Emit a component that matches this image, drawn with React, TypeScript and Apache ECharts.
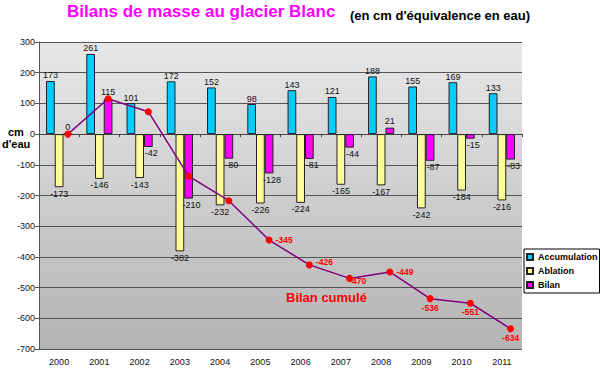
import React, { useEffect, useRef } from "react";
import * as echarts from "echarts";

const years = ["2000", "2001", "2002", "2003", "2004", "2005", "2006", "2007", "2008", "2009", "2010", "2011"];
const accumulation = [173, 261, 101, 172, 152, 98, 143, 121, 188, 155, 169, 133];
const ablation = [-173, -146, -143, -382, -232, -226, -224, -165, -167, -242, -184, -216];
const bilan = [0, 115, -42, -210, -80, -128, -81, -44, 21, -87, -15, -83];
const bilanCumule = [0, 115, 73, -137, -217, -345, -426, -470, -449, -536, -551, -634];
const yTicks = { min: -700, max: 300, interval: 100 };

const FONT = "Arial";

export default function App() {
  const ref = useRef<HTMLDivElement>(null);
  useEffect(() => {
    if (!ref.current) return;
    const chart = echarts.init(ref.current, null, { renderer: "svg" });
    const catGap = 0.35;
    const nBars = 3;
    const barFrac = (1 - catGap) / nBars;
    const bilanOffset = barFrac; // third bar centre offset from category centre

    const cumulLabel: any[] = [
      null, null, null, null, null,
      { position: "right", distance: 3 },
      { position: "right", distance: 3, offset: [0, -3] },
      { position: "bottom", distance: 1, offset: [8, -6] },
      { position: "right", distance: 3 },
      { position: "bottom", distance: 1 },
      { position: "bottom", distance: 1 },
      { position: "bottom", distance: 1 },
    ];

    const barLabel = { fontFamily: FONT, fontSize: 9, color: "#111" };

    chart.setOption({
      animation: false,
      backgroundColor: "#ffffff",
      textStyle: { fontFamily: FONT },
      grid: {
        left: 39,
        right: 78,
        top: 42,
        bottom: 23,
        show: true,
        borderWidth: 0,
        backgroundColor: new echarts.graphic.LinearGradient(0, 0, 0, 1, [
          { offset: 0, color: "#e8e8e8" },
          { offset: 1, color: "#b4b4b4" },
        ]),
      },
      legend: {
        data: ["Accumulation", "Ablation", "Bilan"],
        orient: "vertical",
        left: 524,
        top: 249,
        icon: "rect",
        itemWidth: 6,
        itemHeight: 6,
        itemGap: 2,
        padding: [2, 2, 2, 2],
        borderColor: "#000",
        borderWidth: 1,
        backgroundColor: "#ffffff",
        borderRadius: 0,
        textStyle: { fontFamily: FONT, fontWeight: "bold", fontSize: 9, color: "#000", lineHeight: 12 },
      },
      xAxis: [
        {
          type: "category",
          data: years,
          position: "bottom",
          axisLine: { show: false, onZero: false },
          axisTick: { show: false },
          axisLabel: { fontFamily: FONT, fontSize: 9, color: "#111", margin: 8 },
          splitLine: { show: false },
        },
        {
          type: "category",
          data: years,
          position: "bottom",
          axisLine: { show: true, onZero: true, lineStyle: { color: "#444", width: 1 } },
          axisTick: { show: true, length: 3, lineStyle: { color: "#444" } },
          axisLabel: { show: false },
          splitLine: { show: false },
        },
        {
          type: "value",
          min: -0.5,
          max: years.length - 0.5,
          show: false,
        },
      ],
      yAxis: {
        type: "value",
        min: yTicks.min,
        max: yTicks.max,
        interval: yTicks.interval,
        axisLine: { show: true, onZero: false, lineStyle: { color: "#555" } },
        axisTick: { show: true, length: 4, lineStyle: { color: "#555" } },
        axisLabel: { fontFamily: FONT, fontSize: 9, color: "#111", margin: 4 },
        splitLine: { show: true, lineStyle: { color: "#555", width: 1 } },
      },
      graphic: [
        { type: "text", left: 67, top: 3, style: { text: "Bilans de masse au glacier Blanc", font: "bold 17px Arial", fill: "#ff00ff" } },
        { type: "text", left: 350, top: 9, style: { text: "(en cm d'équivalence en eau)", font: "bold 13px Arial", fill: "#000" } },
        { type: "text", left: 8, top: 126, style: { text: "cm", font: "bold 11px Arial", fill: "#000" } },
        { type: "text", left: 2, top: 138, style: { text: "d'eau", font: "bold 11px Arial", fill: "#000" } },
        { type: "text", left: 286, top: 291, style: { text: "Bilan cumulé", font: "bold 13px Arial", fill: "#ff0000" }, z: 100 },
      ],
      series: [
        {
          name: "Accumulation",
          type: "bar",
          xAxisIndex: 0,
          data: accumulation,
          barCategoryGap: catGap * 100 + "%",
          barGap: "0%",
          itemStyle: { color: "#00ccff", borderColor: "#222", borderWidth: 1 },
          label: { show: true, position: "top", distance: 1, ...barLabel },
        },
        {
          name: "Ablation",
          type: "bar",
          xAxisIndex: 0,
          data: ablation,
          barGap: "0%",
          itemStyle: { color: "#ffff99", borderColor: "#222", borderWidth: 1 },
          label: { show: true, position: "bottom", distance: 2, ...barLabel },
        },
        {
          name: "Bilan",
          type: "bar",
          xAxisIndex: 0,
          data: bilan.map((v) => ({
            value: v,
            label: v >= 0 ? { position: "top", offset: [0, 0] } : { position: "bottom", offset: [3, 0] },
          })),
          barGap: "0%",
          itemStyle: { color: "#ff00ff", borderColor: "#222", borderWidth: 1 },
          label: { show: true, distance: 2, ...barLabel },
        },
        {
          name: "Bilan cumulé",
          type: "line",
          xAxisIndex: 2,
          data: bilanCumule.map((v, i) => {
            const l = cumulLabel[i];
            return {
              value: [i + bilanOffset, v],
              label: l ? { show: true, ...l } : { show: false },
            };
          }),
          symbol: "circle",
          symbolSize: 7,
          itemStyle: { color: "#ff0000" },
          lineStyle: { color: "#800080", width: 1.5 },
          label: {
            show: false,
            formatter: (p: any) => String(p.value[1]),
            fontFamily: FONT,
            fontSize: 8.5,
            fontWeight: "bold",
            color: "#ff0000",
          },
          z: 10,
        },
      ],
    });
    return () => chart.dispose();
  }, []);
  return <div ref={ref} style={{ width: 600, height: 372, position: "absolute", left: 0, top: 0 }} />;
}
